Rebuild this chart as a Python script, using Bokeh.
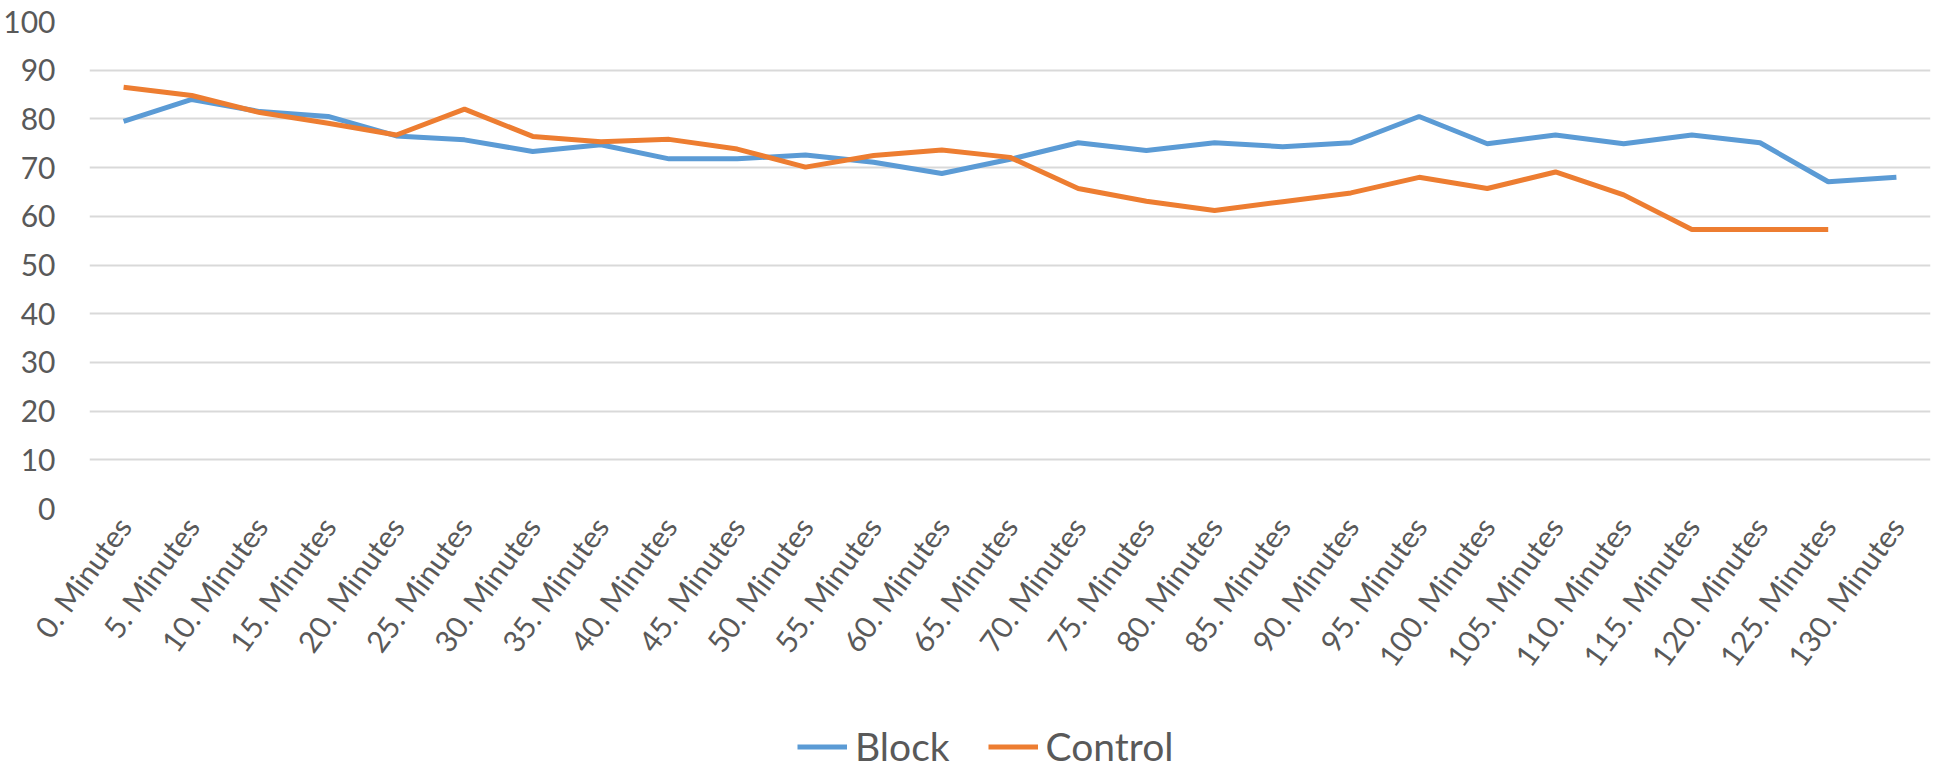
import math
from bokeh.plotting import figure
from bokeh.layouts import column
from bokeh.models import Legend, LegendItem, FactorRange, Range1d, SingleIntervalTicker, ColumnDataSource
from bokeh.embed import file_html
from bokeh.resources import INLINE

categories = ["0. Minutes", "5. Minutes", "10. Minutes", "15. Minutes", "20. Minutes",
              "25. Minutes", "30. Minutes", "35. Minutes", "40. Minutes", "45. Minutes",
              "50. Minutes", "55. Minutes", "60. Minutes", "65. Minutes", "70. Minutes",
              "75. Minutes", "80. Minutes", "85. Minutes", "90. Minutes", "95. Minutes",
              "100. Minutes", "105. Minutes", "110. Minutes", "115. Minutes", "120. Minutes",
              "125. Minutes", "130. Minutes"]
block = [79.5, 84, 81.5, 80.5, 76.5, 75.7, 73.3, 74.7, 71.8, 71.8, 72.6, 71.1, 68.8, 71.7,
         75.1, 73.5, 75.1, 74.3, 75.1, 80.5, 74.9, 76.7, 74.9, 76.7, 75.1, 67.1, 68]
control = [86.5, 84.8, 81.3, 79.1, 76.7, 82, 76.4, 75.3, 75.8, 73.8, 70.1, 72.5, 73.6, 72.1,
           65.7, 63.1, 61.2, 63, 64.8, 68, 65.7, 69.1, 64.4, 57.3, 57.3, 57.3, float("nan")]
series_names = ["Block", "Control"]
series_fields = ["block", "control"]
series_colors = ["#5b9bd5", "#ed7d31"]

FONT = "Lato"
GREY = "#595959"

src = ColumnDataSource(dict(x=categories, block=block, control=control))

p = figure(x_range=FactorRange(factors=categories, range_padding=0),
           y_range=Range1d(0, 100),
           width=1932, height=700,
           output_backend="svg", toolbar_location=None,
           min_border_left=80, min_border_top=21, min_border_right=2, min_border_bottom=192)

for f, col in zip(series_fields, series_colors):
    p.line("x", f, source=src, line_color=col, line_width=5)

p.outline_line_color = None
p.xgrid.grid_line_color = None
p.ygrid.grid_line_color = "#d9d9d9"
p.ygrid.grid_line_width = 2

p.yaxis.ticker = SingleIntervalTicker(interval=10)
p.yaxis.axis_line_color = None
p.yaxis.major_tick_line_color = None
p.yaxis.minor_tick_line_color = None
p.yaxis.major_label_standoff = 28
p.yaxis.major_label_text_font = FONT
p.yaxis.major_label_text_font_size = "30px"
p.yaxis.major_label_text_color = GREY

p.xaxis.axis_line_color = None
p.xaxis.major_tick_line_color = None
p.xaxis.minor_tick_line_color = None
p.xaxis.major_tick_out = 0
p.xaxis.major_label_orientation = math.radians(54)
p.xaxis.major_label_standoff = 12
p.xaxis.major_label_text_font = FONT
p.xaxis.major_label_text_font_size = "30px"
p.xaxis.major_label_text_color = GREY

# legend strip below the chart (its own lines fall outside its visible y range)
lg = figure(width=1932, height=69,
            x_range=FactorRange(factors=categories, range_padding=0),
            y_range=Range1d(1000, 1001),
            output_backend="svg", toolbar_location=None,
            x_axis_location=None, y_axis_location=None,
            min_border_left=0, min_border_right=0, min_border_top=0, min_border_bottom=0)
lg.outline_line_color = None
lg.grid.grid_line_color = None
items = []
for name, f, col in zip(series_names, series_fields, series_colors):
    rr = lg.line("x", f, source=src, line_color=col, line_width=5)
    items.append(LegendItem(label=name, renderers=[rr]))

legend = Legend(items=items, orientation="horizontal", location=(708, 0),
                label_text_font=FONT, label_text_font_size="39px", label_text_color=GREY,
                label_standoff=8, label_height=39,
                glyph_width=50, glyph_height=39, spacing=38, border_line_color=None,
                background_fill_alpha=0, margin=0, padding=0)
lg.add_layout(legend)

layout = column(p, lg, spacing=0)
open("out.html", "w").write(file_html(layout, INLINE))
